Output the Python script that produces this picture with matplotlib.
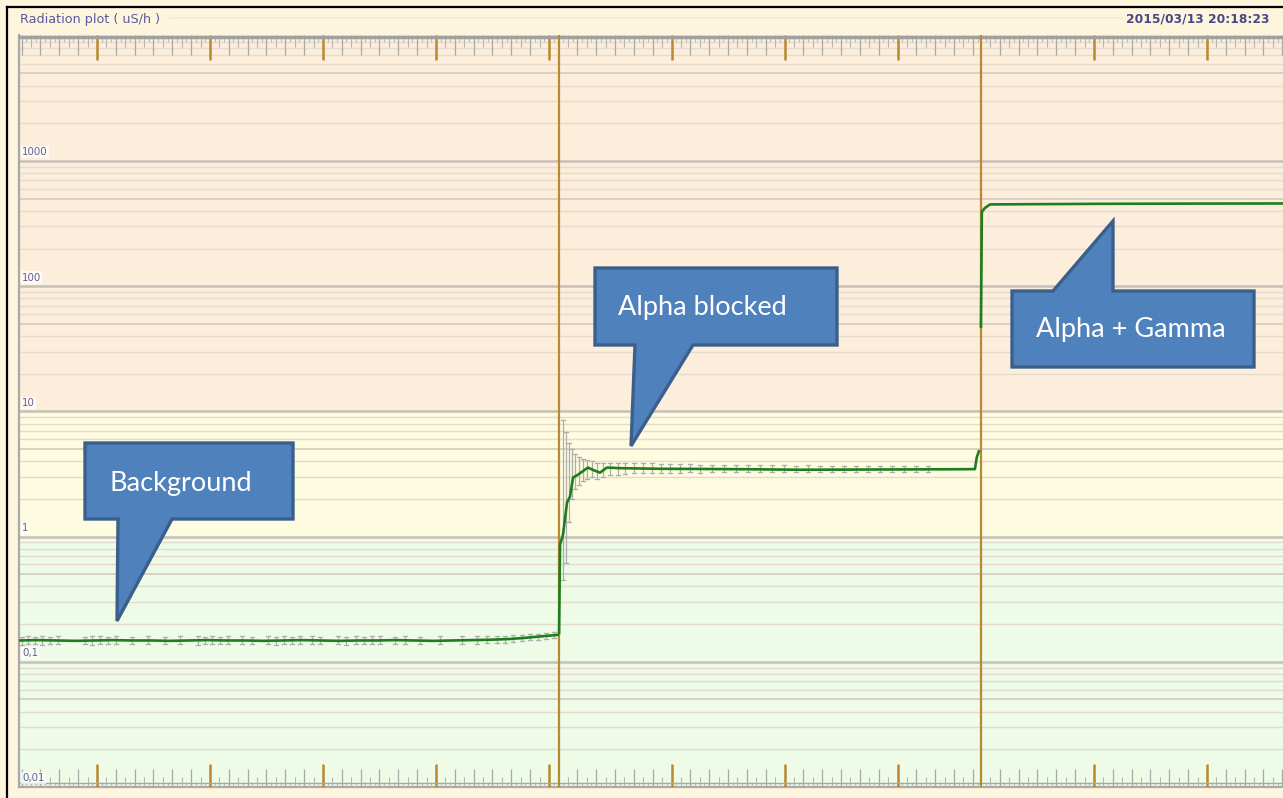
import matplotlib
matplotlib.use("Agg")
import matplotlib.pyplot as plt
from matplotlib.patches import Polygon
from matplotlib.lines import Line2D
import matplotlib.transforms as mtransforms

# ---------------------------------------------------------------- data
# time axis in minutes from the left edge of the plot
segment_starts = [0.0, 286.5, 510.8]
segment_ends = [286.5, 510.8, 671.2]
segment_first_major = [41.4, 346.5, 570.8]

title_text = "Radiation plot ( uS/h )"
stamp_text = "2015/03/13 20:18:23"
ytick_values = [1000, 100, 10, 1, 0.1, 0.01]
ytick_labels = ["1000", "100", "10", "1", "0,1", "0,01"]

# dose rate (uS/h) - background
bg_t = [0, 10, 20, 30, 40, 50, 60, 70, 80, 90, 100, 110, 120, 130, 140, 150,
        160, 170, 180, 190, 200, 210, 220, 230, 240, 250, 260, 268, 274, 280, 286]
bg_v = [0.148, 0.149, 0.148, 0.147, 0.148, 0.149, 0.148, 0.148, 0.147, 0.148,
        0.149, 0.148, 0.148, 0.147, 0.148, 0.149, 0.148, 0.147, 0.148, 0.148,
        0.149, 0.148, 0.147, 0.148, 0.149, 0.150, 0.152, 0.155, 0.158, 0.161, 0.164]

bg_err_t = [1.6, 4.8, 8.5, 12.2, 16.5, 20.7, 35.0, 38.8, 43.0, 47.3, 51.5, 60.0,
            68.5, 77.5, 85.5, 95.0, 98.8, 102.5, 106.7, 111.0, 118.4, 123.7, 132.2,
            136.5, 140.7, 145.0, 149.2, 155.6, 159.8, 169.4, 173.6, 179.0, 183.2,
            187.4, 191.7, 199.7, 205.0, 213.0, 223.6, 235.2, 243.2, 248.5, 253.8,
            258.0, 262.3, 267.1, 271.3, 275.6, 279.8, 284.1]
bg_err_lo = [0.137, 0.138, 0.138, 0.137, 0.139, 0.138, 0.138, 0.137, 0.138, 0.139,
             0.138, 0.138, 0.139, 0.138, 0.138, 0.137, 0.138, 0.139, 0.138, 0.138,
             0.138, 0.139, 0.138, 0.137, 0.138, 0.139, 0.138, 0.138, 0.139, 0.138,
             0.137, 0.138, 0.139, 0.138, 0.138, 0.139, 0.138, 0.139, 0.138, 0.139,
             0.140, 0.141, 0.141, 0.142, 0.144, 0.146, 0.148, 0.150, 0.152, 0.155]
bg_err_hi = [0.159, 0.160, 0.159, 0.160, 0.159, 0.160, 0.159, 0.160, 0.160, 0.159,
             0.160, 0.159, 0.160, 0.159, 0.160, 0.160, 0.159, 0.160, 0.159, 0.160,
             0.160, 0.159, 0.160, 0.159, 0.160, 0.159, 0.160, 0.160, 0.159, 0.160,
             0.159, 0.160, 0.159, 0.160, 0.160, 0.159, 0.160, 0.159, 0.160, 0.160,
             0.160, 0.161, 0.161, 0.162, 0.163, 0.165, 0.167, 0.168, 0.170, 0.172]

# dose rate - alpha blocked
ab_t = [286.8, 287.3, 288.9, 291.0, 292.6, 294.2, 296.9, 302.1, 305.0, 308.5,
        312.2, 319.1, 329.7, 340.4, 361.6, 388.2, 414.7, 441.2, 467.8, 494.3,
        507.6, 508.6, 509.7]
ab_v = [0.17, 0.86, 1.04, 1.87, 2.09, 2.96, 3.13, 3.56, 3.40, 3.24,
        3.56, 3.52, 3.50, 3.48, 3.47, 3.45, 3.42, 3.43, 3.44, 3.45,
        3.46, 4.3, 4.8]

ab_err_t = [288.9, 290.4, 292.0, 293.6, 295.2, 297.3, 299.5, 301.6, 304.3, 306.9,
            310.1, 313.8, 318.1, 321.8, 326.6, 331.3, 336.1, 340.9, 345.7, 351.0,
            356.3, 361.6, 368.0, 374.3, 380.7, 387.1, 393.5, 399.8, 406.2, 412.6,
            419.0, 425.3, 431.7, 438.1, 444.5, 450.8, 457.2, 463.6, 470.0, 476.3,
            482.7]
ab_err_lo = [0.45, 0.62, 1.30, 2.00, 2.40, 2.60, 2.80, 2.90, 3.00, 2.90,
             3.00, 3.10, 3.10, 3.15, 3.20, 3.20, 3.25, 3.20, 3.25, 3.25,
             3.30, 3.25, 3.30, 3.30, 3.28, 3.30, 3.30, 3.28, 3.30, 3.30,
             3.28, 3.30, 3.30, 3.30, 3.30, 3.30, 3.30, 3.30, 3.31, 3.30, 3.31]
ab_err_hi = [8.60, 6.80, 5.60, 5.00, 4.60, 4.30, 4.20, 4.10, 4.00, 3.90,
             3.90, 3.90, 3.85, 3.90, 3.90, 3.85, 3.85, 3.80, 3.80, 3.80,
             3.80, 3.75, 3.75, 3.72, 3.75, 3.72, 3.70, 3.72, 3.70, 3.68,
             3.70, 3.68, 3.66, 3.68, 3.66, 3.65, 3.66, 3.64, 3.66, 3.64, 3.64]

# dose rate - alpha + gamma
ag_t = [510.8, 511.3, 512.9, 515.6, 536.8, 574.0, 627.1, 671.2]
ag_v = [47.6, 394, 421, 450, 452, 455, 457, 458]

callouts = [
    ("Background", [(85, 443), (293, 443), (293, 519), (172, 519), (117, 621),
                    (118, 519), (85, 519)], (109, 483)),
    ("Alpha blocked", [(595, 268), (837, 268), (837, 345), (693, 345), (631, 446),
                       (635, 345), (595, 345)], (618, 307)),
    ("Alpha + Gamma", [(1012, 291), (1053, 291), (1113, 221), (1113, 291),
                       (1254, 291), (1254, 367), (1012, 367)], (1036, 330)),
]

# ---------------------------------------------------------------- figure
W, H = 1283, 798
fig = plt.figure(figsize=(W / 100, H / 100), dpi=100)
fig.patch.set_facecolor("#FEF6DC")


def fx(px):
    return px / W


def fy(py):
    return 1 - py / H


# window frame
fig.add_artist(Line2D([fx(7), 1], [fy(7), fy(7)], color="black", lw=1.6))
fig.add_artist(Line2D([fx(7), fx(7)], [fy(7), 0], color="black", lw=1.6))
fig.add_artist(Line2D([fx(170), fx(1122)], [fy(18), fy(18)], color="#F1E9D2", lw=1.2))
fig.text(fx(20), fy(19), title_text, fontsize=9.2, color="#5B57A0",
         va="center", ha="left", family="DejaVu Sans")
fig.text(fx(1270), fy(19), stamp_text, fontsize=8.8, color="#4A4788",
         va="center", ha="right", family="DejaVu Sans", weight="bold")

ax = fig.add_axes([fx(19), 1 - 787 / H, (W - 19) / W, (787 - 35) / H])
ax.set_yscale("log")
ymin, ymax = 0.01, 1.015e4
xmin, xmax = 0.0, 671.2
ax.set_ylim(ymin, ymax)
ax.set_xlim(xmin, xmax)
ax.set_xticks([])
ax.set_yticks([])
ax.minorticks_off()
for side in ["top", "right"]:
    ax.spines[side].set_visible(False)
for side in ["left", "bottom"]:
    ax.spines[side].set_color("#A9A9A9")
    ax.spines[side].set_linewidth(1.6)

# coloured dose zones
ax.axhspan(ymin, 1, color="#EEFBE7", zorder=0, lw=0)
ax.axhspan(1, 10, color="#FEFCE0", zorder=0, lw=0)
ax.axhspan(10, ymax, color="#FDEEDB", zorder=0, lw=0)

# horizontal grid
for k in range(-2, 4):
    for m in range(1, 10):
        v = m * 10.0 ** k
        if v <= ymin or v >= ymax:
            continue
        if m == 1:
            ax.axhline(v, color="#C6C0B8", lw=1.8, zorder=1)
        elif m == 5:
            ax.axhline(v, color="#D6CEC3", lw=1.3, zorder=1)
        else:
            ax.axhline(v, color="#E3DBCF", lw=1.0, zorder=1)
ax.axhline(1e4, color="#E3DBCF", lw=1.0, zorder=1)

# time rulers along top and bottom
trans_xd = mtransforms.blended_transform_factory(ax.transData, ax.transAxes)
trans_yd = mtransforms.blended_transform_factory(ax.transAxes, ax.transData)
ah = 787 - 35
for s0, s1, m0 in zip(segment_starts, segment_ends, segment_first_major):
    step = 2.5
    k = int((s0 - m0) / step) - 1
    while True:
        t = m0 + k * step
        k += 1
        if t > s1 - 0.3:
            break
        if t < s0 + 0.3:
            continue
        idx = round((t - m0) / step)
        if idx % 24 == 0:
            ln_b, ln_t, col, lw = 23, 25, "#B8892F", 1.8
        elif idx % 4 == 0:
            ln_b, ln_t, col, lw = 18, 20, "#A8A8A8", 0.9
        elif idx % 2 == 0:
            ln_b, ln_t, col, lw = 10, 12, "#B5B5B5", 0.8
        else:
            ln_b, ln_t, col, lw = 5, 7, "#BDBDBD", 0.8
        ax.plot([t, t], [0, ln_b / ah], transform=trans_xd, color=col, lw=lw,
                zorder=3, solid_capstyle="butt")
        ax.plot([t, t], [1, 1 - ln_t / ah], transform=trans_xd, color=col, lw=lw,
                zorder=3, solid_capstyle="butt")
ax.plot([xmin, xmax], [1 - 2 / ah, 1 - 2 / ah], transform=trans_xd,
        color="#A0A0A0", lw=2.5, zorder=3)
ax.plot([xmin, xmax], [4 / ah, 4 / ah], transform=trans_xd,
        color="#A8A8A8", lw=1.0, zorder=3)

# segment boundaries
for b in segment_starts[1:]:
    ax.axvline(b, color="#B8892F", lw=1.6, zorder=4)

# y labels drawn inside the plot
for v, lab in zip(ytick_values, ytick_labels):
    ax.text(3 / (W - 19), v * 1.07, lab, transform=trans_yd, fontsize=7.4,
            color="#62628A", ha="left", va="bottom", zorder=6,
            bbox=dict(boxstyle="square,pad=0.1", fc="#FFFFFF", ec="none", alpha=0.75))

# uncertainty bars
err_kw = dict(color="#ADADAD", lw=0.9, zorder=5)
for t, lo, hi in zip(bg_err_t + ab_err_t, bg_err_lo + ab_err_lo, bg_err_hi + ab_err_hi):
    ax.plot([t, t], [lo, hi], **err_kw)
    ax.plot([t - 0.9, t + 0.9], [lo, lo], **err_kw)
    ax.plot([t - 0.9, t + 0.9], [hi, hi], **err_kw)

# dose-rate trace
line_kw = dict(color="#1E7D1E", lw=1.9, zorder=7, solid_joinstyle="round")
ax.plot(bg_t, bg_v, **line_kw)
ax.plot(ab_t, ab_v, **line_kw)
ax.plot(ag_t, ag_v, **line_kw)

# callouts
for text, pts, (tx, ty) in callouts:
    poly = Polygon([(fx(x), fy(y)) for x, y in pts], closed=True,
                   transform=fig.transFigure, facecolor="#4F81BD",
                   edgecolor="#3A5F8C", lw=2.4, joinstyle="miter", zorder=10)
    fig.add_artist(poly)
    fig.text(fx(tx), fy(ty), text, fontsize=19.5, color="white", family="Lato",
             ha="left", va="center", zorder=11)

fig.savefig("out.png", dpi=100, facecolor=fig.get_facecolor())
